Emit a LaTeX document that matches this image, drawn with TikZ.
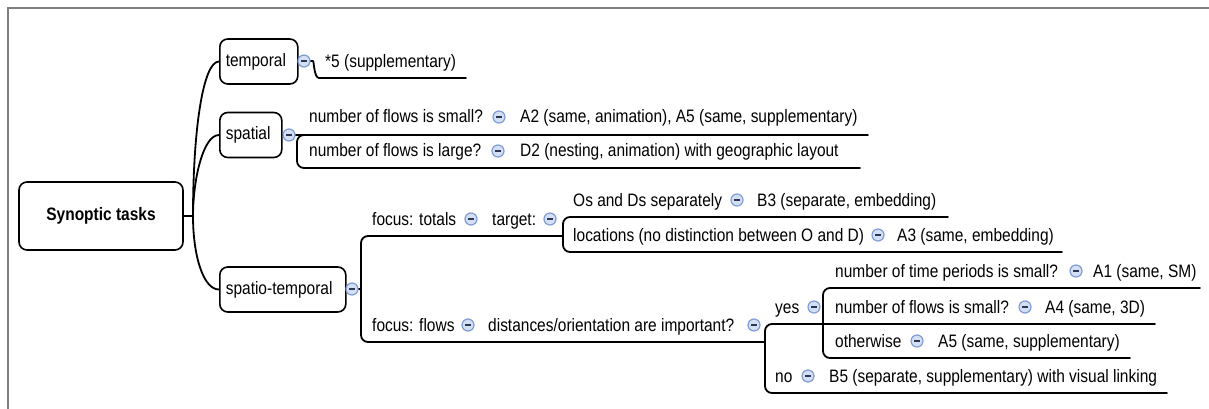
\documentclass[tikz,border=0pt]{standalone}
\usepackage{fontspec}
\setmainfont{Liberation Sans}[FakeStretch=0.86]
\newcommand\mmfont{\fontsize{18}{21}\selectfont}
\definecolor{togedge}{RGB}{128,156,214}
\definecolor{togfill}{RGB}{212,223,244}
\definecolor{togbar}{RGB}{45,55,85}
\definecolor{framegray}{RGB}{128,128,128}
\begin{document}
\begin{tikzpicture}[x=1pt,y=-1pt,
  every node/.style={font=\mmfont},
  box/.style={draw, line width=1.6pt, rounded corners=8pt, inner xsep=6pt,
    inner ysep=0pt, minimum height=45pt, anchor=west, align=left},
  lbl/.style={anchor=base west, inner sep=0pt},
  tog/.style={circle, draw=togedge, fill=togfill, line width=1.2pt,
    minimum size=12pt, inner sep=0pt,
    path picture={\draw[line width=1.2pt, togbar]
      ([xshift=-2.8pt]path picture bounding box.center) --
      ([xshift=2.8pt]path picture bounding box.center);}},
  link/.style={line width=1.8pt, line cap=round, line join=round, rounded corners=7pt},
]
\useasboundingbox (0,0) rectangle (1209,409);

% frame
\draw[framegray, line width=2pt] (8,409) -- (8,8) -- (1209,8);

% root and first-level boxes
\node[box, anchor=center, minimum width=164pt, minimum height=68pt, align=center,
  font=\mmfont\bfseries] (root) at (101,216) {Synoptic tasks};
\node[box, text width=66pt] (temporal) at (219,61.5) {temporal};
\node[box, text width=50pt] (spatial) at (219,135) {spatial};
\node[box, text width=114pt] (spatio) at (219,289.5) {spatio-temporal};

% root connectors
\coordinate (rj) at (193,216);
\draw[link] (root.east) -- (rj);
\draw[link] (rj) .. controls (193,130) and (203,61.5) .. (temporal.west);
\draw[link] (rj) .. controls (193,180) and (203,135) .. (spatial.west);
\draw[link] (rj) .. controls (193,255) and (203,289.5) .. (spatio.west);

% temporal branch
\node[lbl] (t5) at (325,68) {*5 (supplementary)};
\coordinate (t5e) at (466,78);
\draw[link] (temporal.east) -- (306,61) .. controls (314,61) and (314,78) .. (326,78) -- (t5e);

% spatial branch
\node[lbl] (s1) at (309,123) {number of flows is small?};
\node[lbl] (s1r) at (520,123) {A2 (same, animation), A5 (same, supplementary)};
\node[lbl] (s2) at (309,157) {number of flows is large?};
\node[lbl] (s2r) at (520,157) {D2 (nesting, animation) with geographic layout};
\coordinate (s1e) at (868,135);
\coordinate (s2e) at (860,168);
\draw[link] (spatial.east) -- (305,135);
\draw[link] (s1e) -- (297,135) -- (297,168) -- (s2e);

% spatio-temporal branch
\node[lbl] (ft) at (372,225) {focus: totals};
\node[lbl] (tg) at (492,225) {target:};
\node[lbl] (od) at (573,206) {Os and Ds separately};
\node[lbl] (odr) at (757,206) {B3 (separate, embedding)};
\node[lbl] (lc) at (573,241) {locations (no distinction between O and D)};
\node[lbl] (lcr) at (897,241) {A3 (same, embedding)};
\node[lbl] (ff) at (372,331) {focus: flows};
\node[lbl] (di) at (488,331) {distances/orientation are important?};
\node[lbl] (ys) at (775,313) {yes};
\node[lbl] (tp) at (835,277) {number of time periods is small?};
\node[lbl] (tpr) at (1093,277) {A1 (same, SM)};
\node[lbl] (fs) at (835,313) {number of flows is small?};
\node[lbl] (fsr) at (1045,313) {A4 (same, 3D)};
\node[lbl] (ow) at (835,347) {otherwise};
\node[lbl] (owr) at (938,347) {A5 (same, supplementary)};
\node[lbl] (no) at (775,382) {no};
\node[lbl] (nor) at (829,382) {B5 (separate, supplementary) with visual linking};

\coordinate (tgj) at (563,236);
\coordinate (dij) at (765,342);
\coordinate (ysj) at (823,324);
\coordinate (ode) at (948,217);
\coordinate (lce) at (1062,252);
\coordinate (tpe) at (1200,288);
\coordinate (fse) at (1155,324);
\coordinate (owe) at (1130,358);
\coordinate (noe) at (1167,393);

\draw[link] (spatio.east) -- (361,289);
\draw[link] (tgj) -- (361,236) -- (361,342) -- (dij);
\draw[link] (ode) -- (563,217) -- (563,252) -- (lce);
\draw[link] (fse) -- (765,324) -- (765,393) -- (noe);
\draw[link] (tpe) -- (ysj |- tpe) -- (ysj |- owe) -- (owe);

% collapse toggles
\node[tog] at (304,61) {};
\node[tog] at (289,135) {};
\node[tog] at (352,289) {};
\node[tog] at (499,117) {};
\node[tog] at (498,151) {};
\node[tog] at (471,219) {};
\node[tog] at (550,219) {};
\node[tog] at (737,200) {};
\node[tog] at (878,235) {};
\node[tog] at (468,325) {};
\node[tog] at (754,325) {};
\node[tog] at (814,307) {};
\node[tog] at (1076,271) {};
\node[tog] at (1025,307) {};
\node[tog] at (917,341) {};
\node[tog] at (808,376) {};
\end{tikzpicture}
\end{document}
